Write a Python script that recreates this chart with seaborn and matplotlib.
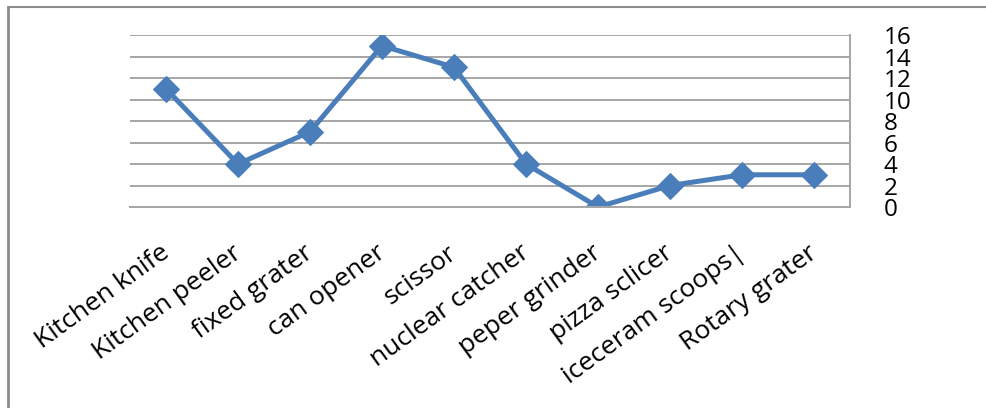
import matplotlib
matplotlib.use("Agg")
import matplotlib.pyplot as plt
import matplotlib.transforms as mtransforms
import seaborn as sns
import pandas as pd
from matplotlib.lines import Line2D

categories = ["Kitchen knife", "Kitchen peeler", "fixed grater", "can opener", "scissor",
              "nuclear catcher", "peper grinder", "pizza sclicer", "iceceram scoops|", "Rotary grater"]
counts = [11, 4, 7, 15, 13, 4, 0, 2, 3, 3]
y_ticks = [0, 2, 4, 6, 8, 10, 12, 14, 16]

df = pd.DataFrame({"item": categories, "count": counts})

sns.set_style("white")
plt.rcParams["font.family"] = ["Open Sans", "DejaVu Sans"]

fig = plt.figure(figsize=(9.87, 4.08), dpi=100)
ax = fig.add_axes([0.1317, 0.4926, 0.7295, 0.4216])

sns.lineplot(data=df, x="item", y="count", ax=ax, sort=False, color="#4a7ebb",
             linewidth=3.6, marker="D", markersize=13, markeredgecolor="#4a7ebb")

ax.set_xlim(-0.5, len(categories) - 0.5)
ax.set_ylim(0, 16)
ax.set_yticks(y_ticks)
ax.yaxis.tick_right()
# labels are packed tightly, like the original chart
ax.tick_params(axis="y", length=0, pad=24, labelsize=17.5, labelcolor="black")
ax.tick_params(axis="x", length=0, pad=24, labelsize=19, labelcolor="black")
for t in ax.get_yticklabels():
    t.set_horizontalalignment("left")
shift = mtransforms.ScaledTranslation(0.08, 0, fig.dpi_scale_trans)
for t in ax.get_xticklabels():
    t.set_rotation(36)
    t.set_horizontalalignment("right")
    t.set_transform(t.get_transform() + shift)
ax.grid(axis="y", color="#a6a6a6", linewidth=1.4)
ax.set_axisbelow(True)
ax.set_xlabel("")
ax.set_ylabel("")
for side in ["left", "top"]:
    ax.spines[side].set_visible(False)
for side in ["right", "bottom"]:
    ax.spines[side].set_color("#a6a6a6")
    ax.spines[side].set_linewidth(1.4)

# outer frame of the pasted chart
fig.add_artist(Line2D([0.008, 0.008], [0, 0.983], transform=fig.transFigure, color="#8c8c8c", linewidth=2))
fig.add_artist(Line2D([0.008, 1], [0.983, 0.983], transform=fig.transFigure, color="#8c8c8c", linewidth=1.5))

fig.savefig("out.png", dpi=100)
